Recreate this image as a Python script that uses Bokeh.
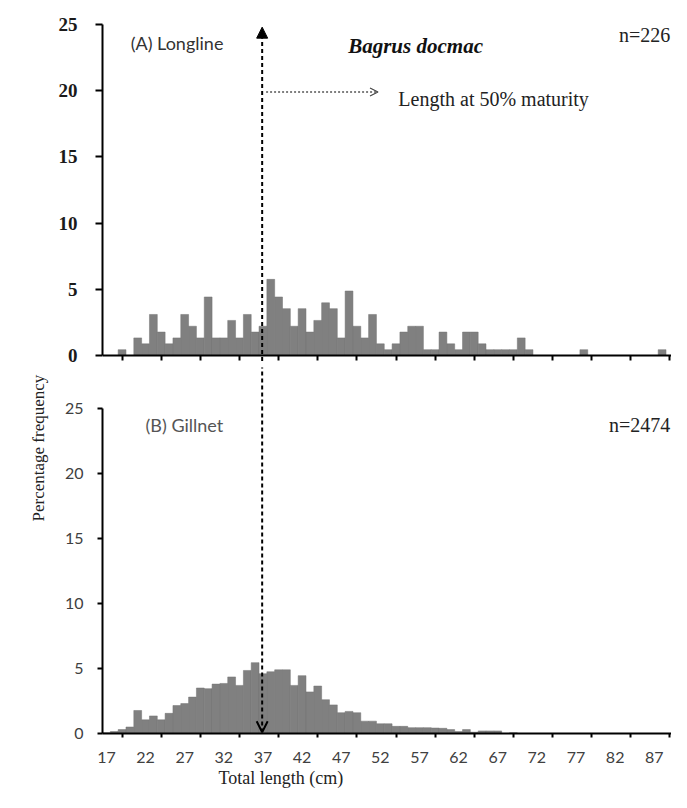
from bokeh.plotting import figure
from bokeh.models import Range1d, FixedTicker, Label, Arrow, NormalHead, OpenHead, ColumnDataSource, Title
from bokeh.layouts import column
from bokeh.embed import file_html
from bokeh.resources import INLINE

# ---------------- data ----------------
length_cm = list(range(17, 89))          # 1-cm length classes (bin centres)

longline_pct = [0, 0, 0.44, 0, 1.33, 0.88, 3.10, 1.77, 0.88, 1.33,      # 17-26
                3.10, 2.21, 1.33, 4.42, 1.33, 1.33, 2.65, 1.33, 3.10, 1.77,  # 27-36
                2.21, 5.75, 4.42, 3.54, 2.21, 3.54, 1.77, 2.65, 3.98, 3.54,  # 37-46
                1.33, 4.87, 2.21, 1.33, 3.10, 0.88, 0.44, 0.88, 1.77, 2.21,  # 47-56
                2.21, 0.44, 0.44, 1.77, 0.88, 0.44, 1.77, 1.77, 0.88, 0.44,  # 57-66
                0.44, 0.44, 0.44, 1.33, 0.44, 0, 0, 0, 0, 0,                 # 67-76
                0, 0.44, 0, 0, 0, 0, 0, 0, 0, 0,                             # 77-86
                0, 0.44]                                                     # 87-88

gillnet_pct = [0.05, 0.15, 0.30, 0.50, 1.77, 1.05, 1.35, 1.05, 1.55, 2.15,   # 17-26
               2.30, 2.80, 3.50, 3.45, 3.80, 3.85, 4.35, 3.70, 4.85, 5.45,   # 27-36
               4.60, 4.75, 4.90, 4.90, 3.70, 4.45, 3.20, 3.65, 2.60, 2.20,   # 37-46
               1.60, 1.70, 1.60, 0.95, 0.95, 0.75, 0.75, 0.55, 0.55, 0.45,   # 47-56
               0.45, 0.45, 0.42, 0.40, 0.30, 0.15, 0.30, 0.10, 0.20, 0.20,   # 57-66
               0.20, 0, 0.05, 0, 0, 0, 0, 0, 0, 0,                           # 67-76
               0, 0, 0, 0, 0, 0, 0, 0, 0, 0,                                 # 77-86
               0, 0]                                                         # 87-88

x_tick_marks = [19, 24, 29, 34, 39, 44, 49, 54, 59, 64, 69, 74, 79, 84, 89]
x_label_pos = [17, 22, 27, 32, 37, 42, 47, 52, 57, 62, 67, 72, 77, 82, 87]
x_labels = ["17", "22", "27", "32", "37", "42", "47", "52", "57", "62", "67", "72", "77", "82", "87"]
y_ticks = [0, 5, 10, 15, 20, 25]

l50_cm = 36.9
n_longline = "n=226"
n_gillnet = "n=2474"

SERIF = "Liberation Serif"
SANS = "Lato"
BAR = "#808080"

W = 671
H1 = 367
H2 = 425
X_END = 89.2


def style_common(p):
    p.xgrid.visible = False
    p.ygrid.visible = False
    p.outline_line_color = None
    p.background_fill_color = "white"
    p.border_fill_color = "white"


# ---------------- top panel ----------------
p1 = figure(width=W, height=H1, x_range=Range1d(16.5, X_END), y_range=Range1d(-0.453, 25),
            output_backend="svg", toolbar_location=None,
            min_border_left=102, min_border_right=0, min_border_top=24, min_border_bottom=6)
style_common(p1)

src1 = ColumnDataSource(dict(x=length_cm, top=longline_pct))
p1.vbar(x="x", top="top", width=1.0, bottom=0, source=src1,
        fill_color=BAR, line_color="#727272", line_width=0.5)

xa1 = p1.xaxis[0]
xa1.fixed_location = 0
xa1.ticker = FixedTicker(ticks=[], minor_ticks=x_tick_marks)
xa1.major_label_standoff = 0
xa1.major_tick_out = 0
xa1.major_tick_in = 0
xa1.minor_tick_out = 5
xa1.minor_tick_in = 0
xa1.minor_tick_line_width = 2
xa1.minor_tick_line_color = "black"
xa1.axis_line_width = 2
xa1.axis_line_color = "black"

ya1 = p1.yaxis[0]
ya1.ticker = FixedTicker(ticks=y_ticks)
ya1.bounds = (0, 25)
ya1.major_label_text_font = SERIF
ya1.major_label_text_font_style = "bold"
ya1.major_label_text_font_size = "19px"
ya1.major_label_text_color = "#1a1a1a"
ya1.major_label_standoff = 18
ya1.major_tick_out = 7
ya1.major_tick_in = 0
ya1.minor_tick_line_color = None
ya1.axis_line_width = 2
ya1.major_tick_line_width = 2

p1.add_layout(Arrow(end=NormalHead(size=11, fill_color="black", line_color="black"), start=None,
                    x_start=l50_cm, y_start=-2.0, x_end=l50_cm, y_end=24.8,
                    line_dash="4 3", line_width=2, line_color="black"))
p1.add_layout(Arrow(end=OpenHead(size=8, line_width=1.2, line_color="#444444"),
                    x_start=l50_cm + 0.5, y_start=19.9, x_end=51.7, y_end=19.9,
                    line_dash="2 2", line_width=1.5, line_color="#555555"))

p1.add_layout(Label(x=20.1, y=23.64, text="(A) Longline", text_font=SANS, text_font_size="18px",
                    text_color="#333333", text_align="left", text_baseline="middle"))
p1.add_layout(Label(x=56.5, y=23.4, text="Bagrus docmac", text_font=SERIF, text_font_style="bold italic",
                    text_font_size="21px", text_color="#111111", text_align="center", text_baseline="middle"))
p1.add_layout(Label(x=X_END - 0.15, y=24.2, text=n_longline, text_font=SERIF, text_font_size="20px",
                    text_color="#222222", text_align="right", text_baseline="middle"))
p1.add_layout(Label(x=54.3, y=19.4, text="Length at 50% maturity", text_font=SERIF, text_font_size="20px",
                    text_color="#222222", text_align="left", text_baseline="middle"))

# ---------------- bottom panel ----------------
p2 = figure(width=W, height=H2, x_range=Range1d(16.5, X_END), y_range=Range1d(0, 28.154),
            output_backend="svg", toolbar_location=None,
            min_border_left=97, min_border_right=0, min_border_top=0, min_border_bottom=59)
style_common(p2)

src2 = ColumnDataSource(dict(x=length_cm, top=gillnet_pct))
p2.vbar(x="x", top="top", width=1.0, bottom=0, source=src2,
        fill_color=BAR, line_color="#727272", line_width=0.5)

xa2 = p2.xaxis[0]
xa2.ticker = FixedTicker(ticks=x_label_pos, minor_ticks=x_tick_marks)
xa2.major_label_overrides = {v: s for v, s in zip(x_label_pos, x_labels)}
xa2.major_tick_line_color = None
xa2.major_tick_out = 4
xa2.major_tick_in = 0
xa2.minor_tick_out = 4
xa2.minor_tick_in = 0
xa2.minor_tick_line_width = 2
xa2.minor_tick_line_color = "black"
xa2.axis_line_width = 2
xa2.axis_line_color = "black"
xa2.major_label_standoff = 14
xa2.major_label_text_font = SANS
xa2.major_label_text_font_size = "16px"
xa2.major_label_text_color = "#404040"

ya2 = p2.yaxis[0]
ya2.ticker = FixedTicker(ticks=y_ticks)
ya2.bounds = (0, 25)
ya2.major_label_text_font = SANS
ya2.major_label_text_font_size = "16px"
ya2.major_label_text_color = "#404040"
ya2.major_label_standoff = 14
ya2.major_tick_out = 5
ya2.major_tick_in = 0
ya2.minor_tick_line_color = None
ya2.axis_line_width = 2
ya2.major_tick_line_width = 2

p2.add_layout(Arrow(end=OpenHead(size=11, line_width=2, line_color="black"), start=None,
                    x_start=l50_cm, y_start=30.0, x_end=l50_cm, y_end=0.1,
                    line_dash="4 3", line_width=2, line_color="black"))

p2.add_layout(Label(x=22.0, y=23.7, text="(B) Gillnet", text_font=SANS, text_font_size="18px",
                    text_color="#555555", text_align="left", text_baseline="middle"))
p2.add_layout(Label(x=X_END - 0.15, y=23.7, text=n_gillnet, text_font=SERIF, text_font_size="20px",
                    text_color="#222222", text_align="right", text_baseline="middle"))

t_y = Title(text="Percentage frequency", align="left", offset=212,
            text_font=SERIF, text_font_size="17px", text_font_style="normal", text_color="#222222")
t_x = Title(text="Total length (cm)", align="left", offset=116,
            text_font=SERIF, text_font_size="18px", text_font_style="normal", text_color="#222222")
try:
    t_y.standoff = 27
except Exception:
    pass
try:
    t_x.standoff = 1
except Exception:
    pass
p2.add_layout(t_y, "left")
p2.add_layout(t_x, "below")

layout = column(p1, p2, spacing=0)
open("out.html", "w").write(file_html(layout, INLINE))
